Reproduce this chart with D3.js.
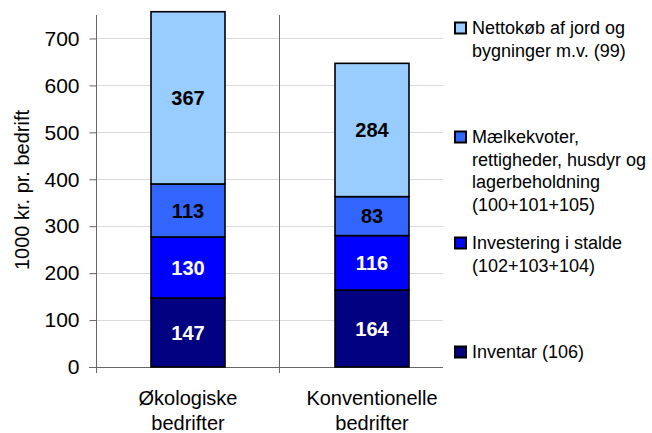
<!DOCTYPE html>
<meta charset="utf-8">
<script src="https://d3js.org/d3.v7.min.js"></script>
<style>
  body { margin: 0; background: #fff; }
  text { font-family: "Liberation Sans", Arial, sans-serif; }
</style>
<body>
<div id="chart"></div>
<script>
    // categories (two lines each)
    const categories = ["Økologiske bedrifter", "Konventionelle bedrifter"];
    const categoryLines = [["Økologiske", "bedrifter"], ["Konventionelle", "bedrifter"]];

    // series from bottom to top
    const seriesNames = ["Inventar (106)", "Investering i stalde (102+103+104)",
        "Mælkekvoter, rettigheder, husdyr og lagerbeholdning (100+101+105)",
        "Nettokøb af jord og bygninger m.v. (99)"];
    const inventar = [147, 164];
    const stalde = [130, 116];
    const maelkekvoter = [113, 83];
    const nettokob = [367, 284];
    const seriesColours = ["#000080", "#0000FF", "#3366FF", "#99CCFF"];
    const labelColours = ["#fff", "#fff", "#000", "#000"];

    const yTicks = [0, 100, 200, 300, 400, 500, 600, 700];

    // legend rows (top to bottom)
    const legendLines = [
        ["Nettokøb af jord og", "bygninger m.v. (99)"],
        ["Mælkekvoter,", "rettigheder, husdyr og", "lagerbeholdning", "(100+101+105)"],
        ["Investering i stalde", "(102+103+104)"],
        ["Inventar (106)"]
    ];
    const legendSeries = [3, 2, 1, 0];
    const legendY = [28, 137, 243, 352];

    const width = 652, height = 433;
    const plot = {left: 96, right: 464, top: 15, bottom: 367};

    const svg = d3.select("#chart").append("svg")
        .attr("width", width)
        .attr("height", height);

    const x = d3.scaleBand()
        .domain(categories)
        .range([plot.left, plot.right]);

    const y = d3.scaleLinear()
        .domain([0, 750])
        .range([plot.bottom, plot.top]);

    // gridlines (clipped by the legend on the right)
    svg.append("g")
        .selectAll("line")
        .data(yTicks.filter(d => d > 0))
        .enter().append("line")
        .attr("x1", plot.left).attr("x2", 443)
        .attr("y1", d => Math.round(y(d)) + 0.5)
        .attr("y2", d => Math.round(y(d)) + 0.5)
        .style("stroke", "#d9d9d9")
        .style("stroke-width", 1);

    // y axis
    const yAxis = svg.append("g")
        .attr("transform", "translate(" + (plot.left + 0.5) + ",0)")
        .call(d3.axisLeft(y).tickValues(yTicks).tickSize(7).tickPadding(10).tickSizeOuter(0));
    yAxis.select(".domain").remove();
    yAxis.selectAll(".tick line").style("stroke", "#666");
    yAxis.selectAll(".tick text")
        .style("font-size", "21px")
        .style("font-family", "Liberation Sans, Arial, sans-serif")
        .style("fill", "#000");

    svg.append("line")
        .attr("x1", plot.left + 0.5).attr("x2", plot.left + 0.5)
        .attr("y1", plot.top).attr("y2", plot.bottom + 6)
        .style("stroke", "#666");

    // divider between categories
    svg.append("line")
        .attr("x1", Math.round(x(categories[1])) - 0.5).attr("x2", Math.round(x(categories[1])) - 0.5)
        .attr("y1", plot.top).attr("y2", plot.bottom + 6)
        .style("stroke", "#666");

    // baseline
    svg.append("line")
        .attr("x1", plot.left - 7).attr("x2", 443)
        .attr("y1", Math.round(y(0)) + 0.5).attr("y2", Math.round(y(0)) + 0.5)
        .style("stroke", "#666");

    // stacked data
    const rows = categories.map((c, i) => ({
        cat: c, s0: inventar[i], s1: stalde[i], s2: maelkekvoter[i], s3: nettokob[i]
    }));
    const stack = d3.stack().keys(["s0", "s1", "s2", "s3"]);
    const stacked = stack(rows);

    const barWidth = 74;
    const groups = svg.append("g").selectAll("g")
        .data(stacked)
        .enter().append("g");

    groups.selectAll("rect")
        .data(d => d.map(p => ({p: p, key: d.key, idx: d.index})))
        .enter().append("rect")
        .attr("x", d => x(d.p.data.cat) + x.bandwidth() / 2 - barWidth / 2)
        .attr("y", d => y(d.p[1]))
        .attr("width", barWidth)
        .attr("height", d => y(d.p[0]) - y(d.p[1]))
        .style("fill", d => seriesColours[d.idx])
        .style("stroke", "#000")
        .style("stroke-width", 1.6);

    groups.selectAll("text")
        .data(d => d.map(p => ({p: p, key: d.key, idx: d.index})))
        .enter().append("text")
        .attr("x", d => x(d.p.data.cat) + x.bandwidth() / 2)
        .attr("y", d => y((d.p[0] + d.p[1]) / 2))
        .attr("dy", "0.36em")
        .attr("text-anchor", "middle")
        .style("font-size", "20px")
        .style("font-weight", "bold")
        .style("fill", d => labelColours[d.idx])
        .text(d => d.p[1] - d.p[0]);

    // category labels
    categories.forEach((c, i) => {
        categoryLines[i].forEach((line, j) => {
            svg.append("text")
                .attr("x", x(c) + x.bandwidth() / 2)
                .attr("y", 405 + j * 25)
                .attr("text-anchor", "middle")
                .style("font-size", "20px")
                .text(line);
        });
    });

    // y axis title
    svg.append("text")
        .attr("transform", "translate(29,190) rotate(-90)")
        .attr("text-anchor", "middle")
        .style("font-size", "20px")
        .text("1000 kr. pr. bedrift");

    // legend
    const legend = svg.append("g");
    legendLines.forEach((lines, i) => {
        const s = legendSeries[i];
        legend.append("rect")
            .attr("x", 455).attr("y", legendY[i] - 5.5)
            .attr("width", 11).attr("height", 11)
            .style("fill", seriesColours[s])
            .style("stroke", "#000")
            .style("stroke-width", 2);
        lines.forEach((line, j) => {
            legend.append("text")
                .attr("x", 472)
                .attr("y", legendY[i] + j * 22.5)
                .attr("dy", "0.36em")
                .style("font-size", "18px")
                .text(line);
        });
    });
</script>
</body>
